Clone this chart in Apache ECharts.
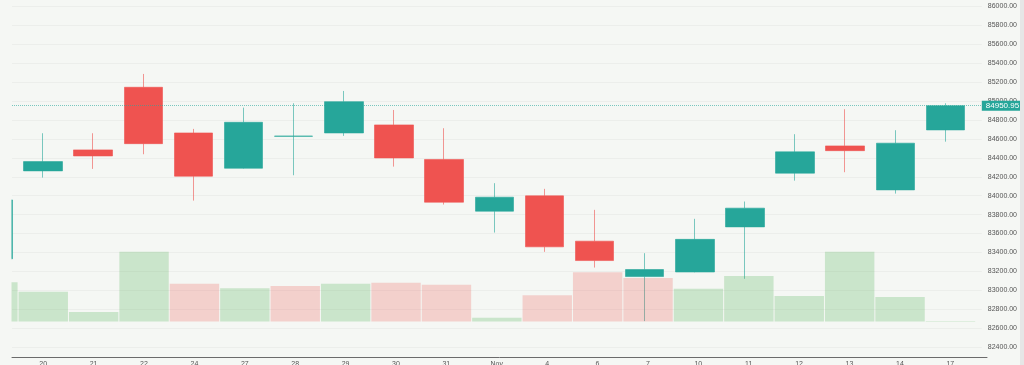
<!DOCTYPE html>
<html>
<head>
<meta charset="utf-8">
<script src="https://cdn.jsdelivr.net/npm/echarts@6/dist/echarts.min.js"></script>
<style>
  html, body { margin: 0; padding: 0; background: #e6e6e6; }
  #chart { width: 1020px; height: 365px; background: #f5f7f4; }
</style>
</head>
<body>
<div id="chart"></div>
<script>
// Day labels (first candle, partly hidden at the left edge, has no label)
const dayLabels = ['20','21','22','24','27','28','29','30','31','Nov','4','6','7','10','11','12','13','14','17'];
// OHLC values, first entry = partially visible previous session
const opens  = [83332, 84262, 84484, 85146, 84663, 84290, 84628, 84663, 84748, 84383, 83836, 83998, 83519, 83145, 83193, 83670, 84238, 84526, 84061, 84695];
const closes = [83955, 84360, 84420, 84550, 84206, 84776, 84630, 84994, 84399, 83931, 83984, 83459, 83314, 83219, 83538, 83868, 84463, 84476, 84555, 84950.95];
const lows   = [83300, 84191, 84283, 84438, 83948, 84285, 84216, 84632, 84307, 83906, 83610, 83406, 83240, 82674, 83190, 83121, 84159, 84248, 84022, 84571];
const highs  = [84000, 84660, 84660, 85287, 84706, 84931, 84977, 85107, 84906, 84713, 84132, 84072, 83850, 83392, 83755, 83938, 84650, 84914, 84692, 84977];
const volumes = [3920, 2980, 950, 6980, 3780, 3320, 3550, 3780, 3880, 3680, 380, 2620, 4920, 4350, 3280, 4550, 2550, 6980, 2450, 50];
const priceTicks = { min: 82400, max: 86000, step: 200 };
const lastPrice = 84950.95;

const UP = '#26a69a', DOWN = '#ef5350';
const UP_EDGE = 'rgba(38,166,154,0.6)', DOWN_EDGE = 'rgba(239,83,80,0.6)';
const VOL_UP = 'rgba(76,175,80,0.25)', VOL_DOWN = 'rgba(239,83,80,0.24)';
const BG = '#f5f7f4';

const candleData = opens.map((o, i) => [i, o, closes[i], lows[i], highs[i]]);
const volumeData = volumes.map((v, i) => ({
  value: [i, v],
  itemStyle: { color: (i === 0 || closes[i] >= closes[i - 1]) ? VOL_UP : VOL_DOWN }
}));

// visible index window
const XMIN = 0.38, XMAX = 19.725;

const chart = echarts.init(document.getElementById('chart'), null, { renderer: 'canvas' });
const labelFont = { fontFamily: 'Liberation Sans, Arial, sans-serif', fontSize: 7, color: '#555' };

chart.setOption({
  animation: false,
  backgroundColor: BG,
  grid: [
    { left: 12, right: 33, top: 6.5, bottom: 18 },       // price
    { left: 12, right: 33, bottom: 43.5, height: 100 },  // volume
    { left: 12, right: 33, top: 356, height: 1 },        // axis line
    { left: 18, right: 44.5, top: 356, height: 1 }       // day labels
  ],
  graphic: [
    // the pane starts at x = 12: hide what lies left of it
    { type: 'rect', left: 0, top: 0, z: 100, silent: true,
      shape: { width: 11.5, height: 356 }, style: { fill: BG } }
  ],
  xAxis: [
    { gridIndex: 0, type: 'value', min: XMIN, max: XMAX, show: false },
    { gridIndex: 1, type: 'value', min: XMIN, max: XMAX, show: false },
    { gridIndex: 2, type: 'value', min: XMIN, max: XMAX,
      axisLine: { show: true, lineStyle: { color: '#6b6b6b', width: 1 } },
      axisTick: { show: false }, axisLabel: { show: false }, splitLine: { show: false } },
    { gridIndex: 3, type: 'category', data: dayLabels, boundaryGap: true,
      axisLine: { show: false }, axisTick: { show: false }, splitLine: { show: false },
      axisLabel: Object.assign({ margin: 4, interval: 0 }, labelFont) }
  ],
  yAxis: [
    { gridIndex: 0, type: 'value', position: 'right', min: priceTicks.min, max: priceTicks.max, interval: priceTicks.step,
      axisLine: { show: false }, axisTick: { show: false },
      axisLabel: Object.assign({ margin: 6, formatter: v => v.toFixed(2) }, labelFont),
      splitLine: { show: true, lineStyle: { color: 'rgba(0,0,0,0.035)', width: 1 } } },
    { gridIndex: 1, type: 'value', min: 0, max: 10000, show: false },
    { gridIndex: 2, type: 'value', show: false },
    { gridIndex: 3, type: 'value', show: false }
  ],
  series: [
    {
      type: 'candlestick', xAxisIndex: 0, yAxisIndex: 0, z: 2,
      barWidth: 39, clip: false,
      data: candleData,
      itemStyle: { color: UP, color0: DOWN, borderColor: UP_EDGE, borderColor0: DOWN_EDGE, borderWidth: 1 },
      markLine: {
        silent: true, symbol: 'none',
        lineStyle: { type: 'dotted', color: 'rgba(38,166,154,0.6)', width: 1 },
        label: {
          position: 'end', distance: 0, formatter: lastPrice.toFixed(2),
          backgroundColor: UP, color: '#ffffff', fontFamily: 'Liberation Sans, Arial, sans-serif',
          fontSize: 8, padding: [1, 3, 1, 4]
        },
        data: [{ yAxis: lastPrice }]
      }
    },
    {
      type: 'bar', xAxisIndex: 1, yAxisIndex: 1, z: 3,
      barWidth: 49.4,
      data: volumeData
    }
  ]
});
</script>
</body>
</html>
